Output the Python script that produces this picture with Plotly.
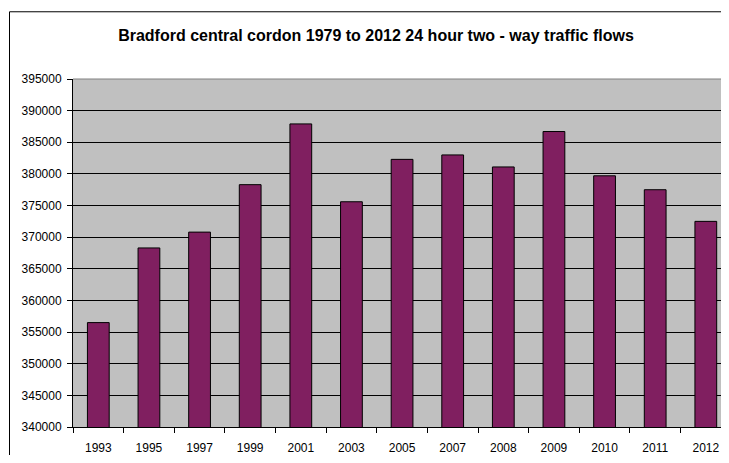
"""Bradford central cordon traffic flows bar chart"""
import plotly.graph_objects as go

YEARS = ['1993', '1995', '1997', '1999', '2001', '2003', '2005',
         '2007', '2008', '2009', '2010', '2011', '2012']
FLOWS = [356500, 368300, 370800, 378300, 387900, 375600, 382300,
         383000, 381100, 386700, 379700, 377500, 372500]

BAR_COLOR = '#801F60'
FONT = 'Arial, Liberation Sans, sans-serif'

# page has an 8px body margin, so the figure is 16px smaller than the window
W, H = 713, 447
L, T, B = 65, 71, 24
PW, PH = W - L, H - T - B

fig = go.Figure()
fig.add_trace(go.Bar(x=YEARS, y=FLOWS, marker=dict(color=BAR_COLOR,
                                                   line=dict(color='black', width=1))))

fig.update_layout(
    width=W, height=H,
    margin=dict(l=L, r=0, t=T, b=B),
    paper_bgcolor='white',
    plot_bgcolor='#C0C0C0',
    bargap=0.57,
    showlegend=False,
    font=dict(family=FONT, size=12, color='black'),
    title=dict(text='<b>Bradford central cordon 1979 to 2012 24 hour two - way traffic flows</b>',
               font=dict(family=FONT, size=16, color='black'),
               x=(368 - L) / PW, xref='paper', xanchor='center',
               y=1 - 27 / H, yref='container', yanchor='middle'),
)

# last category runs a little past the right edge of the picture
fig.update_xaxes(type='category', range=[-0.5, 12.3], showline=True,
                 linecolor='black', linewidth=1,
                 ticks='outside', tickson='boundaries', ticklen=5, tickcolor='black',
                 ticklabelstandoff=10, showgrid=False)
fig.update_yaxes(range=[340000, 395000], dtick=5000, tickformat='d',
                 showline=True, linecolor='black', linewidth=1,
                 ticks='outside', ticklen=5, tickcolor='black', ticklabelstandoff=3,
                 gridcolor='black', gridwidth=1, zeroline=False)

# chart frame: only left and top edges are inside the picture
x0 = (1.5 - L) / PW
y1 = (PH + T - 3) / PH
fig.add_shape(type='path', xref='paper', yref='paper',
              path=f'M {x0},-0.3 L {x0},{y1} L 1.3,{y1}',
              line=dict(color='black', width=1), layer='below')
# grey plot-area edge at top
fig.add_shape(type='line', xref='paper', yref='paper', x0=0, x1=1, y0=1, y1=1,
              line=dict(color='#808080', width=1))

fig.write_html("out.html")
